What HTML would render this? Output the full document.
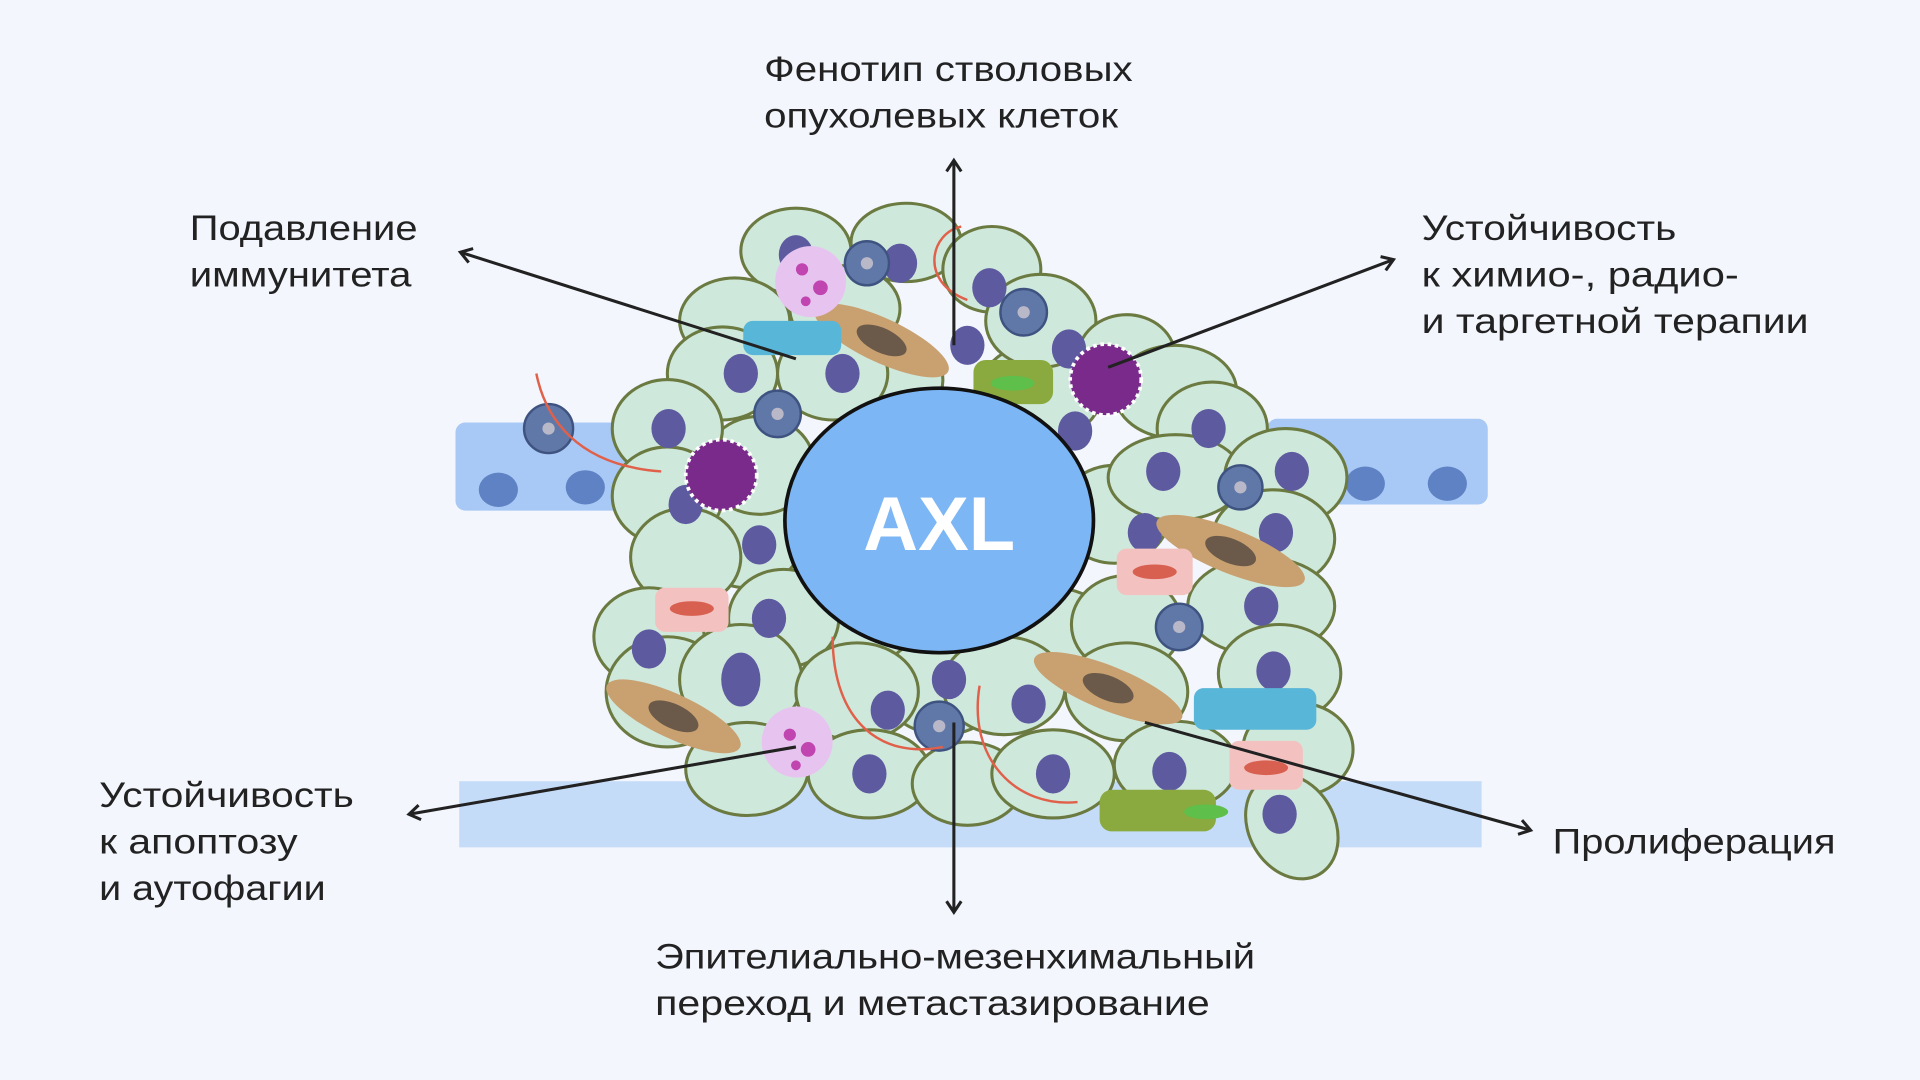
<!DOCTYPE html>
<html><head><meta charset="utf-8"><style>
html,body{margin:0;padding:0;background:#f3f6fd;width:1920px;height:1080px;overflow:hidden}
svg{display:block}
text{font-family:"Liberation Sans",sans-serif;fill:#222}
</style></head><body>
<svg width="1920" height="1080" viewBox="0 0 1568 882" xmlns="http://www.w3.org/2000/svg">
<defs><marker id="a" markerWidth="14" markerHeight="14" refX="10" refY="7" orient="auto" markerUnits="userSpaceOnUse"><path d="M1,1 L10,7 L1,13" fill="none" stroke="#222" stroke-width="2.5"/></marker></defs>
<rect width="1568" height="882" fill="#f3f6fd"/>
<rect x="372" y="345" width="150" height="72" rx="8" fill="#a8c8f5"/>
<rect x="1035" y="342" width="180" height="70" rx="8" fill="#a8c8f5"/>
<rect x="375" y="638" width="835" height="54" fill="#c5dcf8"/>
<g fill="#5e82c4"><ellipse cx="407" cy="400" rx="16" ry="14"/><ellipse cx="478" cy="398" rx="16" ry="14"/><ellipse cx="1115" cy="395" rx="16" ry="14"/><ellipse cx="1182" cy="395" rx="16" ry="14"/></g>
<g fill="#cfe8dc" stroke="#6b7a40" stroke-width="2.5">
<ellipse cx="720" cy="310" rx="50" ry="40"/><ellipse cx="850" cy="320" rx="50" ry="40"/><ellipse cx="610" cy="440" rx="45" ry="40"/><ellipse cx="690" cy="520" rx="50" ry="40"/><ellipse cx="860" cy="520" rx="50" ry="40"/><ellipse cx="910" cy="420" rx="45" ry="40"/><ellipse cx="620" cy="380" rx="45" ry="40"/><ellipse cx="770" cy="560" rx="50" ry="40"/>
<ellipse cx="650" cy="205" rx="45" ry="35"/><ellipse cx="740" cy="198" rx="45" ry="32"/><ellipse cx="810" cy="220" rx="40" ry="35"/>
<ellipse cx="600" cy="262" rx="45" ry="35"/><ellipse cx="690" cy="252" rx="45" ry="35"/><ellipse cx="850" cy="262" rx="45" ry="38"/><ellipse cx="920" cy="292" rx="40" ry="35"/>
<ellipse cx="590" cy="305" rx="45" ry="38"/><ellipse cx="680" cy="305" rx="45" ry="38"/><ellipse cx="960" cy="320" rx="50" ry="38"/>
<ellipse cx="545" cy="350" rx="45" ry="40"/><ellipse cx="990" cy="350" rx="45" ry="38"/>
<ellipse cx="545" cy="405" rx="45" ry="40"/><ellipse cx="960" cy="390" rx="55" ry="35"/><ellipse cx="1050" cy="390" rx="50" ry="40"/>
<ellipse cx="560" cy="455" rx="45" ry="40"/><ellipse cx="1040" cy="440" rx="50" ry="40"/>
<ellipse cx="530" cy="520" rx="45" ry="40"/><ellipse cx="1030" cy="495" rx="60" ry="40"/><ellipse cx="640" cy="505" rx="45" ry="40"/><ellipse cx="920" cy="510" rx="45" ry="40"/>
<ellipse cx="545" cy="565" rx="50" ry="45"/><ellipse cx="605" cy="555" rx="50" ry="45"/><ellipse cx="700" cy="565" rx="50" ry="40"/><ellipse cx="820" cy="560" rx="50" ry="40"/><ellipse cx="920" cy="565" rx="50" ry="40"/><ellipse cx="1045" cy="550" rx="50" ry="40"/>
<ellipse cx="610" cy="628" rx="50" ry="38"/><ellipse cx="710" cy="632" rx="50" ry="36"/><ellipse cx="790" cy="640" rx="45" ry="34"/><ellipse cx="860" cy="632" rx="50" ry="36"/><ellipse cx="960" cy="625" rx="50" ry="36"/><ellipse cx="1060" cy="612" rx="45" ry="38"/>
<ellipse cx="1055" cy="675" rx="35" ry="45" transform="rotate(-30 1055 675)"/>
</g>
<g fill="#5d5aa0">
<ellipse cx="650" cy="208" rx="14" ry="16"/><ellipse cx="735" cy="215" rx="14" ry="16"/><ellipse cx="808" cy="235" rx="14" ry="16"/><ellipse cx="605" cy="305" rx="14" ry="16"/><ellipse cx="688" cy="305" rx="14" ry="16"/><ellipse cx="873" cy="285" rx="14" ry="16"/><ellipse cx="987" cy="350" rx="14" ry="16"/><ellipse cx="546" cy="350" rx="14" ry="16"/><ellipse cx="560" cy="412" rx="14" ry="16"/><ellipse cx="950" cy="385" rx="14" ry="16"/><ellipse cx="1055" cy="385" rx="14" ry="16"/><ellipse cx="1042" cy="435" rx="14" ry="16"/><ellipse cx="935" cy="435" rx="14" ry="16"/><ellipse cx="530" cy="530" rx="14" ry="16"/><ellipse cx="628" cy="505" rx="14" ry="16"/><ellipse cx="1030" cy="495" rx="14" ry="16"/><ellipse cx="605" cy="555" rx="16" ry="22"/><ellipse cx="725" cy="580" rx="14" ry="16"/><ellipse cx="775" cy="555" rx="14" ry="16"/><ellipse cx="840" cy="575" rx="14" ry="16"/><ellipse cx="1040" cy="548" rx="14" ry="16"/><ellipse cx="710" cy="632" rx="14" ry="16"/><ellipse cx="860" cy="632" rx="14" ry="16"/><ellipse cx="955" cy="630" rx="14" ry="16"/><ellipse cx="1045" cy="665" rx="14" ry="16"/><ellipse cx="620" cy="445" rx="14" ry="16"/><ellipse cx="790" cy="282" rx="14" ry="16"/><ellipse cx="878" cy="352" rx="14" ry="16"/>
</g>
<g fill="#6078a8" stroke="#3f5380" stroke-width="2"><circle cx="448" cy="350" r="20"/><circle cx="635" cy="338" r="19"/><circle cx="708" cy="215" r="18"/><circle cx="836" cy="255" r="19"/><circle cx="1013" cy="398" r="18"/><circle cx="963" cy="512" r="19"/><circle cx="767" cy="593" r="20"/></g>
<g fill="#b8b8c8"><circle cx="448" cy="350" r="5"/><circle cx="635" cy="338" r="5"/><circle cx="708" cy="215" r="5"/><circle cx="836" cy="255" r="5"/><circle cx="1013" cy="398" r="5"/><circle cx="963" cy="512" r="5"/><circle cx="767" cy="593" r="5"/></g>
<g fill="#c9a070"><ellipse cx="720" cy="278" rx="60" ry="18" transform="rotate(25 720 278)"/><ellipse cx="550" cy="585" rx="60" ry="18" transform="rotate(25 550 585)"/><ellipse cx="905" cy="562" rx="65" ry="18" transform="rotate(22 905 562)"/><ellipse cx="1005" cy="450" rx="65" ry="18" transform="rotate(22 1005 450)"/></g>
<g fill="#6b5a4a"><ellipse cx="720" cy="278" rx="22" ry="10" transform="rotate(25 720 278)"/><ellipse cx="550" cy="585" rx="22" ry="10" transform="rotate(25 550 585)"/><ellipse cx="905" cy="562" rx="22" ry="10" transform="rotate(22 905 562)"/><ellipse cx="1005" cy="450" rx="22" ry="10" transform="rotate(22 1005 450)"/></g>
<g fill="#f3c2c0"><rect x="535" y="480" width="60" height="36" rx="8"/><rect x="912" y="448" width="62" height="38" rx="8"/><rect x="1004" y="605" width="60" height="40" rx="8"/></g>
<g fill="#d86050"><ellipse cx="565" cy="497" rx="18" ry="6"/><ellipse cx="943" cy="467" rx="18" ry="6"/><ellipse cx="1034" cy="627" rx="18" ry="6"/></g>
<g fill="#58b6d8"><rect x="607" y="262" width="80" height="28" rx="8"/><rect x="975" y="562" width="100" height="34" rx="8"/></g>
<g fill="#8aaa40"><rect x="795" y="294" width="65" height="36" rx="10"/><rect x="898" y="645" width="95" height="34" rx="10"/></g>
<g fill="#5ebf4a"><ellipse cx="827" cy="313" rx="18" ry="6"/><ellipse cx="985" cy="663" rx="18" ry="6"/></g>
<g fill="#e7c4ef"><circle cx="662" cy="230" r="29"/><circle cx="651" cy="606" r="29"/></g>
<g fill="#c045b0"><circle cx="655" cy="220" r="5"/><circle cx="670" cy="235" r="6"/><circle cx="658" cy="246" r="4"/><circle cx="645" cy="600" r="5"/><circle cx="660" cy="612" r="6"/><circle cx="650" cy="625" r="4"/></g>
<g fill="#7a2a8a" stroke="#fff" stroke-width="3" stroke-dasharray="3 3"><circle cx="903" cy="310" r="29"/><circle cx="589" cy="388" r="29"/></g>
<g fill="none" stroke="#e0604a" stroke-width="2"><path d="M438,305 C445,340 470,380 540,385"/><path d="M785,185 C760,190 750,230 790,245"/><path d="M680,520 C680,590 720,620 770,610"/><path d="M800,560 C790,620 830,660 880,655"/></g>
<ellipse cx="767" cy="425" rx="126" ry="108" fill="#7cb6f5" stroke="#111" stroke-width="3"/>
<text x="767" y="449" text-anchor="middle" font-size="62" font-weight="bold" style="fill:#fff">AXL</text>
<g stroke="#222" stroke-width="2.5" fill="none" marker-end="url(#a)">
<line x1="779" y1="282" x2="779" y2="131"/><line x1="650" y1="293" x2="376" y2="206"/><line x1="905" y1="300" x2="1138" y2="212"/><line x1="650" y1="610" x2="334" y2="665"/><line x1="779" y1="590" x2="779" y2="745"/><line x1="935" y1="590" x2="1250" y2="678"/>
</g>
<g font-size="29" lengthAdjust="spacingAndGlyphs">
<text x="624" y="66" textLength="301" lengthAdjust="spacingAndGlyphs">Фенотип стволовых</text><text x="624" y="104" textLength="289" lengthAdjust="spacingAndGlyphs">опухолевых клеток</text>
<text x="155" y="196" textLength="186" lengthAdjust="spacingAndGlyphs">Подавление</text><text x="155" y="234" textLength="181" lengthAdjust="spacingAndGlyphs">иммунитета</text>
<text x="1161" y="196" textLength="208" lengthAdjust="spacingAndGlyphs">Устойчивость</text><text x="1161" y="234" textLength="259" lengthAdjust="spacingAndGlyphs">к химио-, радио-</text><text x="1161" y="272" textLength="316" lengthAdjust="spacingAndGlyphs">и таргетной терапии</text>
<text x="81" y="659" textLength="208" lengthAdjust="spacingAndGlyphs">Устойчивость</text><text x="81" y="697" textLength="162" lengthAdjust="spacingAndGlyphs">к апоптозу</text><text x="81" y="735" textLength="185" lengthAdjust="spacingAndGlyphs">и аутофагии</text>
<text x="1268" y="697" textLength="231" lengthAdjust="spacingAndGlyphs">Пролиферация</text>
<text x="535" y="791" textLength="490" lengthAdjust="spacingAndGlyphs">Эпителиально-мезенхимальный</text><text x="535" y="829" textLength="453" lengthAdjust="spacingAndGlyphs">переход и метастазирование</text>
</g>
</svg>
</body></html>
